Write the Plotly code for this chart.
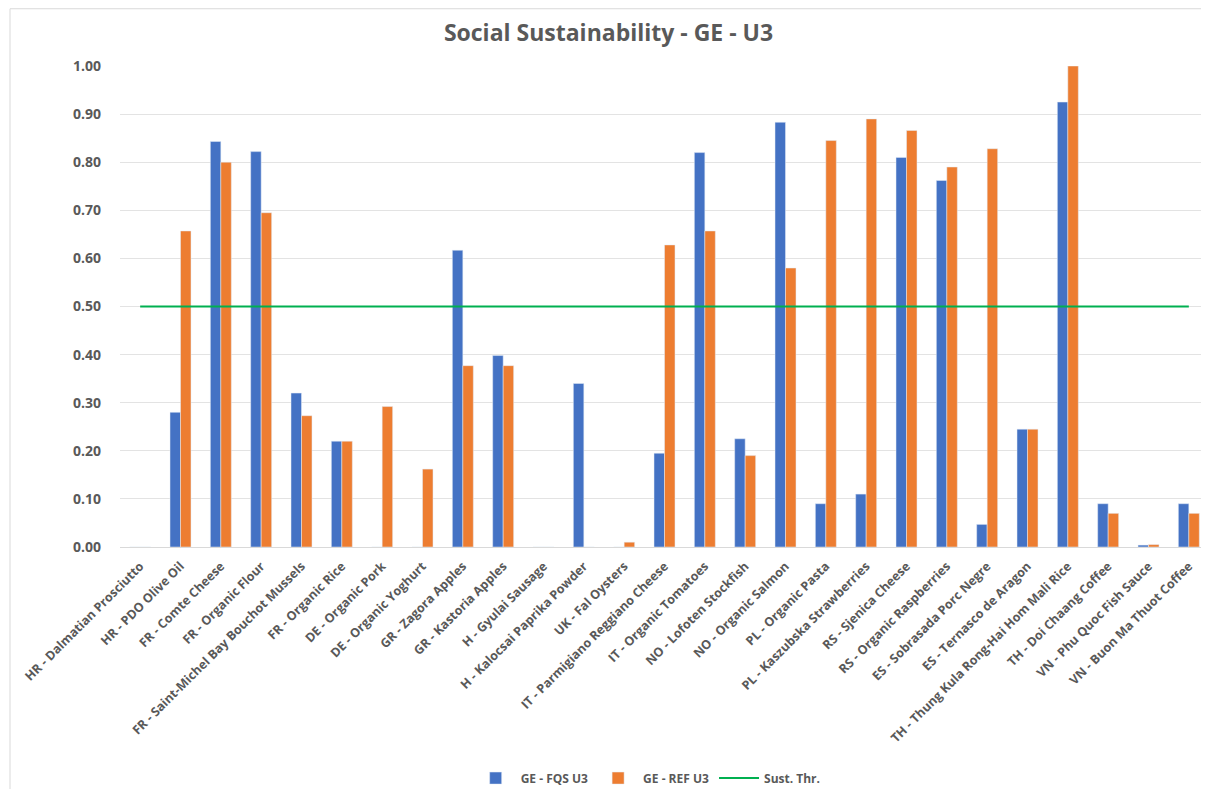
import plotly.graph_objects as go

categories = [
    "HR - Dalmatian Prosciutto", "HR - PDO Olive Oil", "FR - Comte Cheese",
    "FR - Organic Flour", "FR - Saint-Michel Bay Bouchot Mussels", "FR - Organic Rice",
    "DE - Organic Pork", "DE - Organic Yoghurt", "GR - Zagora Apples",
    "GR - Kastoria Apples", "H - Gyulai Sausage", "H - Kalocsai Paprika Powder",
    "UK - Fal Oysters", "IT - Parmigiano Reggiano Cheese", "IT - Organic Tomatoes",
    "NO - Lofoten Stockfish", "NO - Organic Salmon", "PL - Organic Pasta",
    "PL - Kaszubska Strawberries", "RS - Sjenica Cheese", "RS - Organic Raspberries",
    "ES - Sobrasada Porc Negre", "ES - Ternasco de Aragon",
    "TH - Thung Kula Rong-Hai Hom Mali Rice", "TH - Doi Chaang Coffee",
    "VN - Phu Quoc Fish Sauce", "VN - Buon Ma Thuot Coffee",
]
fqs_u3 = [0, 0.28, 0.843, 0.822, 0.32, 0.22, 0, 0, 0.617, 0.398, 0, 0.34, 0,
          0.195, 0.82, 0.225, 0.883, 0.09, 0.11, 0.81, 0.762, 0.047, 0.245,
          0.925, 0.09, 0.004, 0.09]
ref_u3 = [0, 0.657, 0.80, 0.695, 0.273, 0.22, 0.292, 0.162, 0.377, 0.377, 0, 0,
          0.01, 0.628, 0.657, 0.19, 0.58, 0.845, 0.89, 0.866, 0.79, 0.828, 0.245,
          1.0, 0.07, 0.005, 0.07]
threshold = [0.5] * len(categories)
y_ticks = [0, 0.1, 0.2, 0.3, 0.4, 0.5, 0.6, 0.7, 0.8, 0.9, 1.0]

grey = "#595959"

fig = go.Figure()
fig.add_trace(go.Bar(x=categories, y=fqs_u3, name="GE - FQS U3", marker_color="#4472C4"))
fig.add_trace(go.Bar(x=categories, y=ref_u3, name="GE - REF U3", marker_color="#ED7D31"))
fig.add_trace(go.Scatter(x=categories, y=threshold, name="Sust. Thr.", mode="lines",
                         line=dict(color="#00B050", width=2)))

fig.update_layout(
    width=1201, height=781,
    paper_bgcolor="white", plot_bgcolor="white",
    font=dict(family="Open Sans", color=grey),
    title=dict(text="Social Sustainability - GE - U3", x=0.5, xanchor="center",
               y=0.968, yanchor="middle",
               font=dict(size=23, color=grey, weight="bold")),
    barmode="group", bargap=0.48, bargroupgap=0,
    margin=dict(l=112, r=0, t=58, b=242),
    legend=dict(orientation="h", x=0.485, xanchor="center",
                yref="container", y=0.014, yanchor="middle",
                font=dict(size=12, color=grey, weight="bold"), itemwidth=40),
)
fig.update_xaxes(tickangle=-45, tickfont=dict(size=12.5, color=grey, weight="bold"),
                 showline=True, linecolor="#D9D9D9", ticks="", automargin=False,
                 ticklabelstandoff=6)
fig.update_yaxes(range=[0, 1.0], tickvals=y_ticks, tickformat=".2f",
                 tickfont=dict(size=14, color=grey, weight="bold"),
                 gridcolor="#E3E3E3", zeroline=False, ticks="",
                 ticklabelstandoff=18, automargin=False)
# chart border (left and top edges visible in the reference)
fig.add_shape(type="line", xref="paper", yref="paper", x0=-0.101, x1=-0.101,
              y0=-0.6, y1=1.119, line=dict(color="#D9D9D9", width=1))
fig.add_shape(type="line", xref="paper", yref="paper", x0=-0.101, x1=1.0,
              y0=1.119, y1=1.119, line=dict(color="#D9D9D9", width=1))

fig.write_html("out.html")
